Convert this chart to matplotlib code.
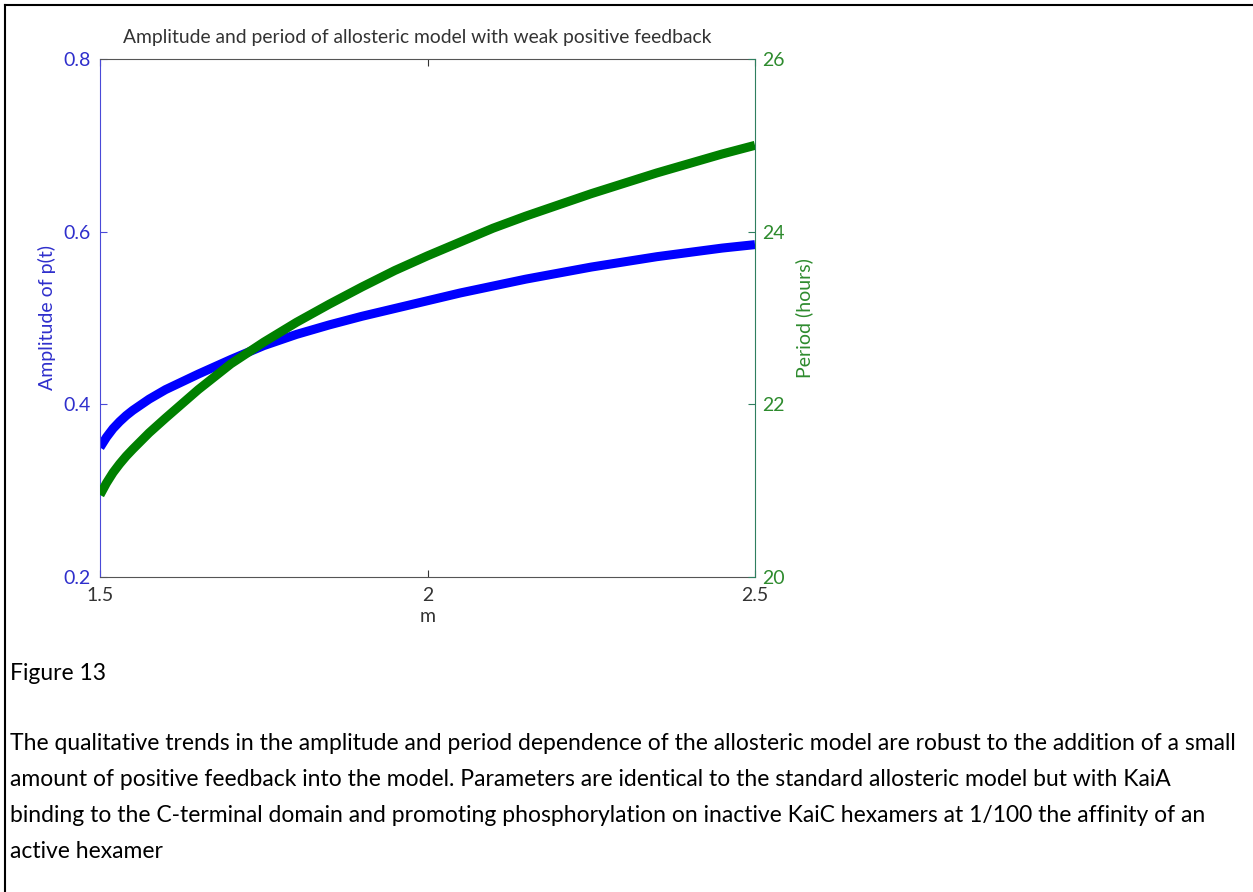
import matplotlib
matplotlib.use('Agg')
import matplotlib.pyplot as plt
from matplotlib.lines import Line2D

# values
m_values = [1.50, 1.51, 1.52, 1.53, 1.54, 1.55, 1.575, 1.60, 1.65, 1.70, 1.75, 1.80,
            1.85, 1.90, 1.95, 2.00, 2.05, 2.10, 2.15, 2.20, 2.25, 2.30, 2.35, 2.40,
            2.45, 2.50]
amplitude = [0.350, 0.362, 0.372, 0.380, 0.387, 0.393, 0.406, 0.417, 0.435, 0.452,
             0.468, 0.481, 0.492, 0.502, 0.511, 0.520, 0.529, 0.537, 0.545, 0.552,
             0.559, 0.565, 0.571, 0.576, 0.581, 0.585]
period = [20.95, 21.09, 21.21, 21.31, 21.40, 21.48, 21.67, 21.84, 22.17, 22.47,
          22.72, 22.95, 23.16, 23.36, 23.55, 23.72, 23.88, 24.04, 24.18, 24.31,
          24.44, 24.56, 24.68, 24.79, 24.90, 25.00]

x_ticks = [1.5, 2, 2.5]
x_ticklabels = ['1.5', '2', '2.5']
amp_ticks = [0.2, 0.4, 0.6, 0.8]
amp_ticklabels = ['0.2', '0.4', '0.6', '0.8']
per_ticks = [20, 22, 24, 26]
per_ticklabels = ['20', '22', '24', '26']

title = 'Amplitude and period of allosteric model with weak positive feedback'
fig_label = 'Figure 13'
caption = ['The qualitative trends in the amplitude and period dependence of the allosteric model are robust to the addition of a small',
           'amount of positive feedback into the model. Parameters are identical to the standard allosteric model but with KaiA',
           'binding to the C-terminal domain and promoting phosphorylation on inactive KaiC hexamers at 1/100 the affinity of an',
           'active hexamer']

blue_txt = '#2f2fcc'
blue_ax = '#4a4ad8'
green_txt = '#2e8b2e'
green_ax = '#2f7f5f'
dark = '#333333'

plt.rcParams['font.family'] = ['Lato', 'DejaVu Sans']

fig = plt.figure(figsize=(12.53, 8.92), dpi=100)
ax = fig.add_axes([100 / 1253, 1 - 577 / 892, 655 / 1253, 518 / 892])
ax2 = ax.twinx()

ax.plot(m_values, amplitude, color='#0000ff', lw=6.5, solid_capstyle='butt',
        solid_joinstyle='round')
ax2.plot(m_values, period, color='#008000', lw=6.5, solid_capstyle='butt',
         solid_joinstyle='round')

ax.set_xlim(1.5, 2.5)
ax.set_ylim(0.2, 0.8)
ax2.set_ylim(20, 26)
ax.set_xticks(x_ticks, x_ticklabels)
ax.set_yticks(amp_ticks, amp_ticklabels)
ax2.set_yticks(per_ticks, per_ticklabels)

ax.tick_params(axis='x', direction='in', length=5, top=True, colors=dark,
               labelsize=14, pad=7)
ax.tick_params(axis='y', direction='in', length=5, colors=blue_ax,
               labelcolor=blue_txt, labelsize=14, pad=7)
ax2.tick_params(axis='y', direction='in', length=5, colors=green_ax,
                labelcolor=green_txt, labelsize=14, pad=5)

for sp in ['top', 'bottom']:
    ax.spines[sp].set_color('#555555')
    ax2.spines[sp].set_visible(False)
ax.spines['left'].set_color(blue_ax)
ax.spines['right'].set_visible(False)
ax2.spines['left'].set_visible(False)
ax2.spines['right'].set_color(green_ax)

ax.set_xlabel('m', fontsize=14, color=dark, labelpad=3)
ax.set_ylabel('Amplitude of p(t)', fontsize=14, color=blue_txt, labelpad=5)
ax2.set_ylabel('Period (hours)', fontsize=14, color=green_txt, labelpad=8)
fig.text(417 / 1253, 1 - 38 / 892, title, fontsize=13.9, color=dark,
         ha='center', va='center')

# caption under the chart
fig.text(10 / 1253, 1 - 673 / 892, fig_label, fontsize=16.5, va='center', ha='left')
for i, line in enumerate(caption):
    fig.text(10 / 1253, 1 - (743 + 36.3 * i) / 892, line, fontsize=16.5,
             va='center', ha='left')

# page border (top and left edges visible)
fig.add_artist(Line2D([5 / 1253, 5 / 1253], [0, 1 - 5 / 892], color='black',
                      lw=1.5, transform=fig.transFigure))
fig.add_artist(Line2D([5 / 1253, 1], [1 - 5 / 892, 1 - 5 / 892], color='black',
                      lw=1.5, transform=fig.transFigure))

fig.savefig('out.png', dpi=100)
